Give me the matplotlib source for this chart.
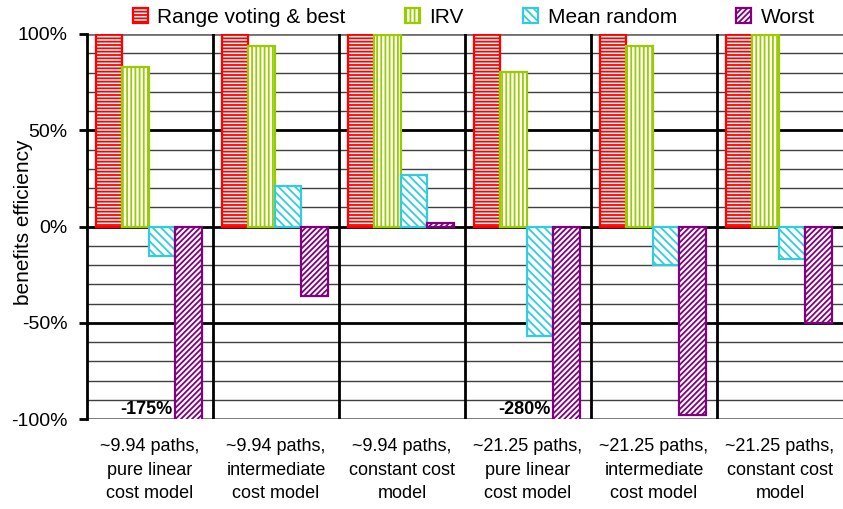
import matplotlib.pyplot as plt
import numpy as np

plt.rcParams['font.family'] = ['Liberation Sans', 'DejaVu Sans']
plt.rcParams['hatch.linewidth'] = 1.3

# カテゴリと各手法の値 (%)
categories = ["~9.94 paths,\npure linear\ncost model",
              "~9.94 paths,\nintermediate\ncost model",
              "~9.94 paths,\nconstant cost\nmodel",
              "~21.25 paths,\npure linear\ncost model",
              "~21.25 paths,\nintermediate\ncost model",
              "~21.25 paths,\nconstant cost\nmodel"]
range_best = [100, 100, 100, 100, 100, 100]
irv = [83, 94, 99.5, 80.5, 94, 99.5]
mean_random = [-15.5, 21, 26.5, -57, -20, -17]
worst = [-175, -36, 1.8, -280, -98, -50]

series = [("Range voting & best", range_best, "#ff0000", "-----"),
          ("IRV", irv, "#99cc00", "||||"),
          ("Mean random", mean_random, "#33ccdd", "\\\\\\\\"),
          ("Worst", worst, "#800080", "//////")]

fig = plt.figure(figsize=(8.43, 5.09), dpi=100)
ax = fig.add_axes([87 / 843, 1 - 419 / 509, 1 - 87 / 843, (419 - 34) / 509])

x = np.arange(len(categories))
w = 0.21

# 横の目盛り線 (10%刻み、50%刻みは太線)
for v in range(-100, 101, 10):
    if v in (-100, 100):
        ax.axhline(v, color="#707070", lw=2, zorder=1)
    elif v % 50 == 0:
        ax.axhline(v, color="black", lw=2, zorder=1)
    else:
        ax.axhline(v, color="#404040", lw=1, zorder=1)

# グループの区切り線
for i in range(len(categories) - 1):
    ax.axvline(i + 0.5, color="black", lw=2, zorder=1)

for k, (name, vals, col, hatch) in enumerate(series):
    ax.bar(x + (k - 1.5) * w - 0.01, vals, w, facecolor="white",
           edgecolor=col, hatch=hatch, lw=1.6, label=name, zorder=3)

# 範囲外の値を表示 (Worst の棒の左側)
for i, v in enumerate(worst):
    if v < -100:
        ax.text(x[i] + w - 0.01 - 0.02, -95, "%d%%" % v,
                ha="right", va="center", fontsize=13, fontweight="bold",
                zorder=4)

ax.set_xlim(-0.5, 5.5)
ax.set_ylim(-100, 100)
ax.set_yticks([-100, -50, 0, 50, 100])
ax.set_yticklabels(["-100%", "-50%", "0%", "50%", "100%"], fontsize=14)
ax.set_xticks(x)
ax.set_xticklabels(categories, fontsize=13, linespacing=1.5)
ax.tick_params(axis="x", length=0, pad=14)
ax.tick_params(axis="y", length=6, width=2, pad=8)
ax.set_ylabel("benefits efficiency", fontsize=15)
ax.yaxis.set_label_coords(-0.072, 0.51)
for s in ["top", "right", "bottom"]:
    ax.spines[s].set_visible(False)
ax.spines["left"].set_linewidth(2)
ax.spines["left"].set_zorder(5)

fig.legend(loc="upper center", bbox_to_anchor=(0.562, 1.022), ncol=4,
           frameon=False, fontsize=15, handlelength=0.72, handleheight=0.72,
           handletextpad=0.45, columnspacing=2.85)

fig.savefig("out.png", dpi=100)
